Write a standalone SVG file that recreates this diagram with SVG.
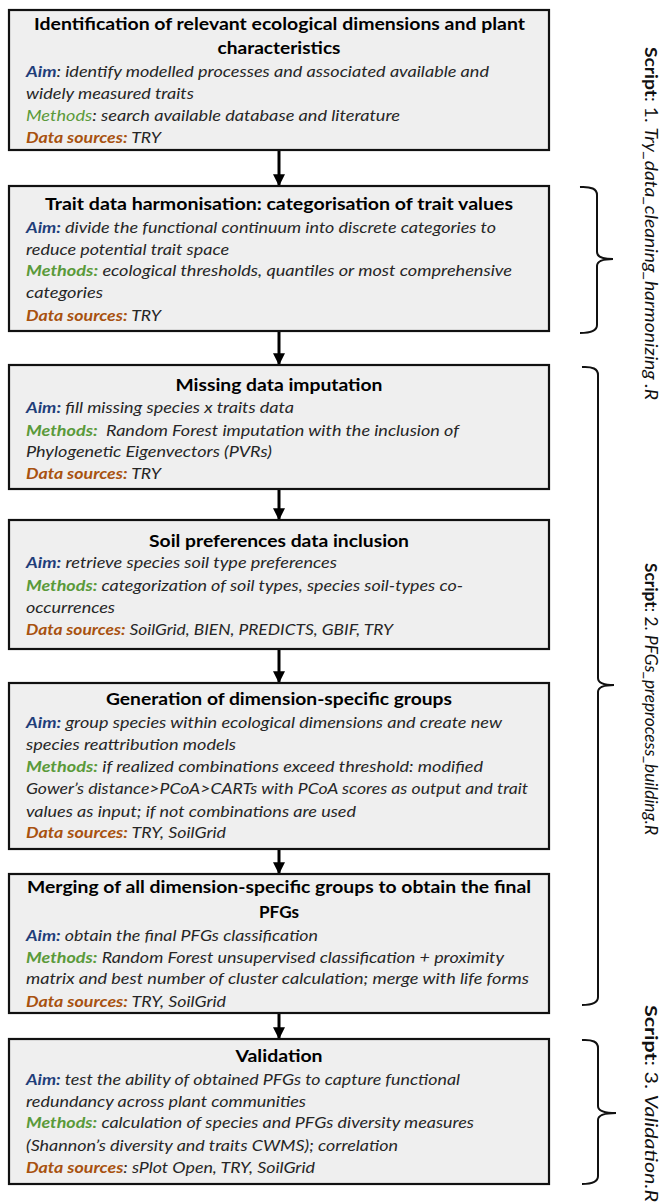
<svg xmlns="http://www.w3.org/2000/svg" width="662" height="1204" viewBox="0 0 662 1204">
<style>
.box{fill:#efefef;stroke:#111;stroke-width:2.2}
.t{font-family:Lato,"Liberation Sans",sans-serif;font-weight:bold;font-size:17.5px;fill:#000;text-anchor:middle}
.b{font-family:Lato,"Liberation Sans",sans-serif;font-style:italic;font-size:16px;fill:#262626;white-space:pre}
.aim{fill:#1f3e7a;font-weight:bold}
.met{fill:#5a9a3a;font-weight:bold}
.met0{fill:#5a9a3a}
.dat{fill:#a8520f;font-weight:bold}
.k{fill:#262626;font-weight:normal}
.s{font-family:Lato,"Liberation Sans",sans-serif;font-size:17px;fill:#111;white-space:pre}
.arrow{stroke:#000;stroke-width:3;fill:none}
.brace{stroke:#111;stroke-width:2;fill:none}
</style>
<defs>
<marker id="ah" viewBox="0 0 10 10" refX="9" refY="5" markerWidth="4" markerHeight="4" orient="auto" markerUnits="strokeWidth">
<path d="M0,0 L10,5 L0,10 z" fill="#000"/>
</marker>
</defs>

<g id="connectors">
<line class="arrow" x1="279" y1="151" x2="279" y2="185" marker-end="url(#ah)"/>
<line class="arrow" x1="279" y1="332" x2="279" y2="364" marker-end="url(#ah)"/>
<line class="arrow" x1="279" y1="490" x2="279" y2="519" marker-end="url(#ah)"/>
<line class="arrow" x1="279" y1="650" x2="279" y2="682" marker-end="url(#ah)"/>
<line class="arrow" x1="279" y1="850" x2="279" y2="873" marker-end="url(#ah)"/>
<line class="arrow" x1="279" y1="1014" x2="279" y2="1038" marker-end="url(#ah)"/>
</g>

<g id="box1">
<rect class="box" x="9" y="10" width="540" height="140"/>
<text class="t" x="279.5" y="30" textLength="491" lengthAdjust="spacingAndGlyphs">Identification of relevant ecological dimensions and plant</text>
<text class="t" x="279" y="54" textLength="123" lengthAdjust="spacingAndGlyphs">characteristics</text>
<text class="b" x="26" y="77" textLength="463" lengthAdjust="spacingAndGlyphs"><tspan class="aim">Aim</tspan>: identify modelled processes and associated available and</text>
<text class="b" x="26" y="99" textLength="168" lengthAdjust="spacingAndGlyphs">widely measured traits</text>
<text class="b" x="26" y="121" textLength="374" lengthAdjust="spacingAndGlyphs"><tspan class="met0">Methods</tspan>: search available database and literature</text>
<text class="b" x="26" y="143" textLength="135" lengthAdjust="spacingAndGlyphs"><tspan class="dat">Data sources:</tspan> TRY</text>
</g>

<g id="box2">
<rect class="box" x="9" y="186" width="540" height="145"/>
<text class="t" x="279" y="210" textLength="468" lengthAdjust="spacingAndGlyphs">Trait data harmonisation: categorisation of trait values</text>
<text class="b" x="26" y="233" textLength="470" lengthAdjust="spacingAndGlyphs"><tspan class="aim">Aim:</tspan> divide the functional continuum into discrete categories to</text>
<text class="b" x="26" y="255" textLength="203" lengthAdjust="spacingAndGlyphs">reduce potential trait space</text>
<text class="b" x="26" y="276" textLength="486" lengthAdjust="spacingAndGlyphs"><tspan class="met">Methods:</tspan> ecological thresholds, quantiles or most comprehensive</text>
<text class="b" x="26" y="298" textLength="77" lengthAdjust="spacingAndGlyphs">categories</text>
<text class="b" x="26" y="321" textLength="135" lengthAdjust="spacingAndGlyphs"><tspan class="dat">Data sources:</tspan> TRY</text>
</g>

<g id="box3">
<rect class="box" x="9" y="365" width="540" height="124"/>
<text class="t" x="279" y="391" textLength="207" lengthAdjust="spacingAndGlyphs">Missing data imputation</text>
<text class="b" x="26" y="413" textLength="268" lengthAdjust="spacingAndGlyphs"><tspan class="aim">Aim:</tspan> fill missing species x traits data</text>
<text class="b" x="26" y="436" textLength="433" lengthAdjust="spacingAndGlyphs"><tspan class="met">Methods:</tspan>  Random Forest imputation with the inclusion of</text>
<text class="b" x="26" y="457" textLength="246" lengthAdjust="spacingAndGlyphs">Phylogenetic Eigenvectors (PVRs)</text>
<text class="b" x="26" y="479" textLength="135" lengthAdjust="spacingAndGlyphs"><tspan class="dat">Data sources:</tspan> TRY</text>
</g>

<g id="box4">
<rect class="box" x="9" y="520" width="540" height="129"/>
<text class="t" x="279" y="547" textLength="260" lengthAdjust="spacingAndGlyphs">Soil preferences data inclusion</text>
<text class="b" x="26" y="568" textLength="311" lengthAdjust="spacingAndGlyphs"><tspan class="aim">Aim:</tspan> retrieve species soil type preferences</text>
<text class="b" x="26" y="591" textLength="437" lengthAdjust="spacingAndGlyphs"><tspan class="met">Methods:</tspan> categorization of soil types, species soil-types co-</text>
<text class="b" x="26" y="613" textLength="89" lengthAdjust="spacingAndGlyphs">occurrences</text>
<text class="b" x="26" y="635" textLength="367" lengthAdjust="spacingAndGlyphs"><tspan class="dat">Data sources:</tspan> SoilGrid, BIEN, PREDICTS, GBIF, TRY</text>
</g>

<g id="box5">
<rect class="box" x="9" y="683" width="540" height="166"/>
<text class="t" x="279" y="705" textLength="346" lengthAdjust="spacingAndGlyphs">Generation of dimension-specific groups</text>
<text class="b" x="26" y="728" textLength="476" lengthAdjust="spacingAndGlyphs"><tspan class="aim">Aim:</tspan> group species within ecological dimensions and create new</text>
<text class="b" x="26" y="750" textLength="210" lengthAdjust="spacingAndGlyphs">species reattribution models</text>
<text class="b" x="26" y="772" textLength="457" lengthAdjust="spacingAndGlyphs"><tspan class="met">Methods:</tspan> if realized combinations exceed threshold: modified</text>
<text class="b" x="26" y="794" textLength="502" lengthAdjust="spacingAndGlyphs">Gower’s distance&gt;PCoA&gt;CARTs with PCoA scores as output and trait</text>
<text class="b" x="26" y="817" textLength="330" lengthAdjust="spacingAndGlyphs">values as input; if not combinations are used</text>
<text class="b" x="26" y="838" textLength="200" lengthAdjust="spacingAndGlyphs"><tspan class="dat">Data sources:</tspan> TRY, SoilGrid</text>
</g>

<g id="box6">
<rect class="box" x="9" y="874" width="540" height="139"/>
<text class="t" x="279" y="893" textLength="504" lengthAdjust="spacingAndGlyphs">Merging of all dimension-specific groups to obtain the final</text>
<text class="t" x="279" y="918" textLength="40" lengthAdjust="spacingAndGlyphs">PFGs</text>
<text class="b" x="26" y="941" textLength="292" lengthAdjust="spacingAndGlyphs"><tspan class="aim">Aim:</tspan> obtain the final PFGs classification</text>
<text class="b" x="26" y="963" textLength="478" lengthAdjust="spacingAndGlyphs"><tspan class="met">Methods:</tspan> Random Forest unsupervised classification + proximity</text>
<text class="b" x="26" y="984" textLength="503" lengthAdjust="spacingAndGlyphs">matrix and best number of cluster calculation; merge with life forms</text>
<text class="b" x="26" y="1007" textLength="200" lengthAdjust="spacingAndGlyphs"><tspan class="dat">Data sources:</tspan> TRY, SoilGrid</text>
</g>

<g id="box7">
<rect class="box" x="9" y="1039" width="540" height="145"/>
<text class="t" x="279" y="1062" textLength="87" lengthAdjust="spacingAndGlyphs">Validation</text>
<text class="b" x="26" y="1085" textLength="434" lengthAdjust="spacingAndGlyphs"><tspan class="aim">Aim:</tspan> test the ability of obtained PFGs to capture functional</text>
<text class="b" x="26" y="1107" textLength="280" lengthAdjust="spacingAndGlyphs">redundancy across plant communities</text>
<text class="b" x="26" y="1128" textLength="448" lengthAdjust="spacingAndGlyphs"><tspan class="met">Methods:</tspan> calculation of species and PFGs diversity measures</text>
<text class="b" x="26" y="1151" textLength="372" lengthAdjust="spacingAndGlyphs">(Shannon’s diversity and traits CWMS); correlation</text>
<text class="b" x="26" y="1173" textLength="289" lengthAdjust="spacingAndGlyphs"><tspan class="dat">Data sources</tspan><tspan class="k">:</tspan> sPlot Open, TRY, SoilGrid</text>
</g>

<g id="brace1">
<path class="brace" d="M580,187 Q597,186 597,195 L597,252 Q597,259 613,259 Q597,259 597,266 L597,325 Q597,333 580,333"/>
<text class="s" transform="translate(645,47) rotate(90)" textLength="353" lengthAdjust="spacingAndGlyphs"><tspan font-weight="bold">Script</tspan>: 1. <tspan font-style="italic">Try_data_cleaning_harmonizing .R</tspan></text>
</g>

<g id="brace2">
<path class="brace" d="M582,367 Q598,366 598,375 L598,678 Q598,685 614,685 Q598,685 598,692 L598,997 Q598,1005 582,1005"/>
<text class="s" transform="translate(645,563) rotate(90)" textLength="272" lengthAdjust="spacingAndGlyphs"><tspan font-weight="bold">Script</tspan>: 2. <tspan font-style="italic">PFGs_preprocess_building.R</tspan></text>
</g>

<g id="brace3">
<path class="brace" d="M582,1040 Q598,1039 598,1048 L598,1106 Q598,1113 616,1113 Q598,1113 598,1120 L598,1176 Q598,1184 582,1184"/>
<text class="s" transform="translate(645,1005) rotate(90)" textLength="197" lengthAdjust="spacingAndGlyphs"><tspan font-weight="bold">Script</tspan>: 3. <tspan font-style="italic">Validation.R</tspan></text>
</g>
</svg>
